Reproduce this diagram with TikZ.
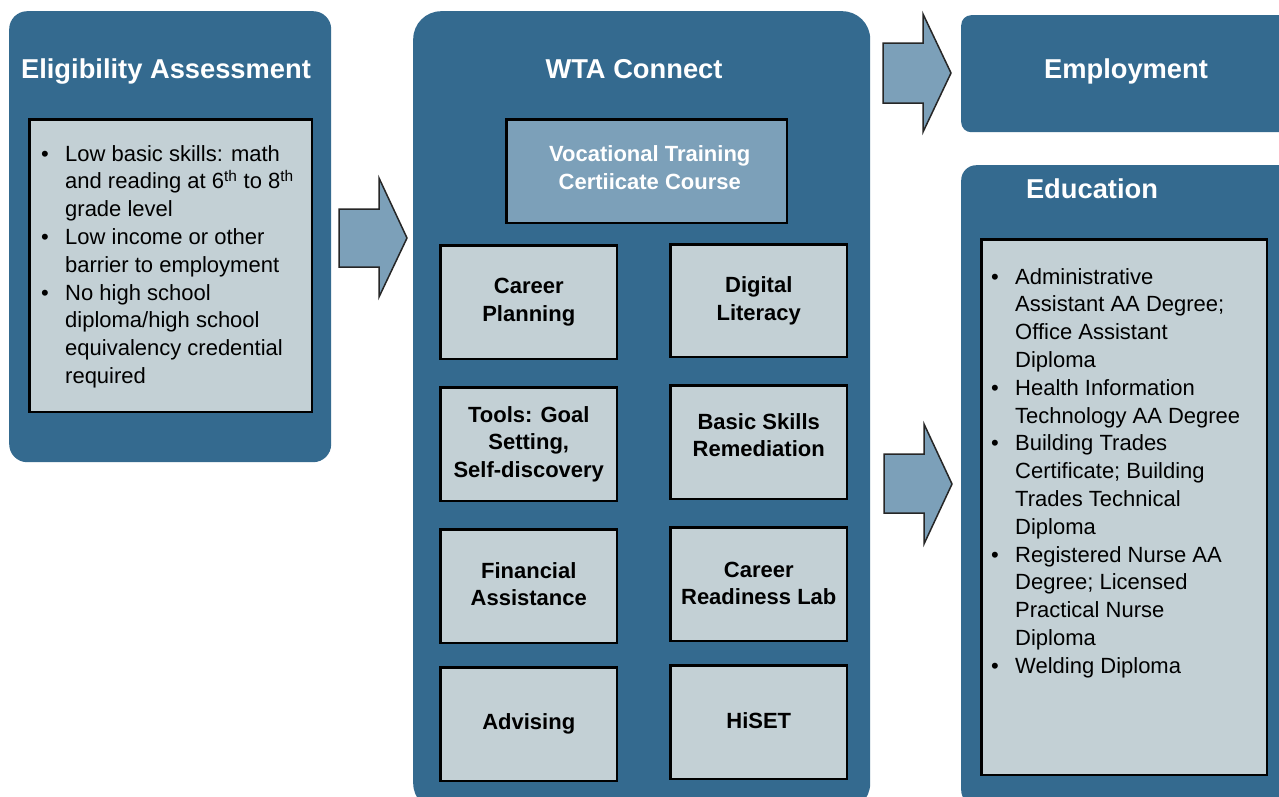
\documentclass[tikz,border=0pt]{standalone}
\usepackage{fontspec}
\setmainfont{Liberation Sans}
\definecolor{panelblue}{RGB}{52,106,143}
\definecolor{lightfill}{RGB}{195,208,213}
\definecolor{arrowblue}{RGB}{124,160,185}
\newcommand{\bul}{\par\hangindent=24pt\hangafter=1\noindent\makebox[24pt][l]{\textbullet}}
\begin{document}
\begin{tikzpicture}[x=1pt,y=-1pt,
  panel/.style={fill=panelblue, draw=none, anchor=north west, inner sep=0pt},
  inbox/.style={fill=lightfill, draw=black, line width=2.5pt, anchor=north west, inner sep=0pt, shift={(1.25,1.25)}},
  vocbox/.style={fill=arrowblue, draw=black, line width=2.5pt, anchor=north west, inner sep=0pt, shift={(1.25,1.25)}},
  blockarrow/.style={fill=arrowblue, draw=black!85, line width=1.5pt, line join=miter},
  titletxt/.style={text=white, font=\bfseries\fontsize{27.3}{32}\selectfont, anchor=base, inner sep=0pt},
  gridtxt/.style={font=\bfseries\fontsize{22}{27.6}\selectfont, align=center, inner sep=0pt},
  listtxt/.style={anchor=base west, inner sep=0pt, font=\fontsize{22}{27.8}\selectfont}
]
\clip (0,0) rectangle (1279,796);
\fill[white] (0,0) rectangle (1279,796);

% panels
\node[panel, rounded corners=18pt, minimum width=322pt, minimum height=451pt] (elig) at (9,11) {};
\node[panel, rounded corners=28pt, minimum width=457pt, minimum height=800pt] (wta) at (413,11) {};
\node[panel, rounded corners=10pt, minimum width=340pt, minimum height=117pt] (emp) at (961,15) {};
\node[panel, rounded corners=15pt, minimum width=340pt, minimum height=640pt] (edu) at (961,165) {};

% titles
\node[titletxt] (eligT) at (166,78) {Eligibility Assessment};
\node[titletxt] (wtaT) at (634,78) {WTA Connect};
\node[titletxt] (empT) at (1126,78) {Employment};
\node[titletxt] (eduT) at (1092,198) {Education};

% inner boxes
\node[inbox, minimum width=282.5pt, minimum height=292.5pt] (eligbox) at (27,117) {};
\node[inbox, minimum width=285.5pt, minimum height=535.5pt] (edubox) at (979,237) {};
\node[vocbox, minimum width=280.5pt, minimum height=103.5pt] (voc) at (504,117) {};
\node[text=white, font=\bfseries\fontsize{22}{27.6}\selectfont, align=center, inner sep=0pt] (vocT) at ([xshift=3pt,yshift=3.5pt]voc.center) {Vocational Training\\Certiicate Course};

% grid
\node[inbox, minimum width=176.5pt, minimum height=113.5pt] (g1) at (438,243) {};
\node[inbox, minimum width=176.5pt, minimum height=112.5pt] (g2) at (668,242) {};
\node[inbox, minimum width=176.5pt, minimum height=113.5pt] (g3) at (438,385) {};
\node[inbox, minimum width=176.5pt, minimum height=113.5pt] (g4) at (668,383) {};
\node[inbox, minimum width=176.5pt, minimum height=113.5pt] (g5) at (438,527) {};
\node[inbox, minimum width=176.5pt, minimum height=113.5pt] (g6) at (668,525) {};
\node[inbox, minimum width=176.5pt, minimum height=113.5pt] (g7) at (438,665) {};
\node[inbox, minimum width=176.5pt, minimum height=113.5pt] (g8) at (668,663) {};
\node[gridtxt] (t1) at (g1.center) {Career\\Planning};
\node[gridtxt] (t2) at (g2.center) {Digital\\Literacy};
\node[gridtxt] (t3) at (g3.center) {Tools: Goal\\Setting,\\Self-discovery};
\node[gridtxt] (t4) at ([yshift=7pt]g4.center) {Basic Skills\\Remediation};
\node[gridtxt] (t5) at ([yshift=2pt]g5.center) {Financial\\Assistance};
\node[gridtxt] (t6) at ([yshift=1pt]g6.center) {Career\\Readiness Lab};
\node[gridtxt] (t7) at (g7.center) {Advising};
\node[gridtxt] (t8) at ([yshift=2pt]g8.center) {HiSET};

% lists
\node[listtxt] (eligList) at (41,161) {\parbox[t]{265pt}{\raggedright
\bul Low basic skills: math\newline and reading at 6\textsuperscript{th} to 8\textsuperscript{th}\newline grade level
\bul Low income or other\newline barrier to employment
\bul No high school\newline diploma/high school\newline equivalency credential\newline required}};

\node[listtxt] (eduList) at (991,284) {\parbox[t]{270pt}{\raggedright
\bul Administrative\newline Assistant AA Degree;\newline Office Assistant\newline Diploma
\bul Health Information\newline Technology AA Degree
\bul Building Trades\newline Certificate; Building\newline Trades Technical\newline Diploma
\bul Registered Nurse AA\newline Degree; Licensed\newline Practical Nurse\newline Diploma
\bul Welding Diploma}};

% block arrows
\draw[blockarrow] (339,209) -- (379,209) -- (379,178) -- (407,238) -- (379,297) -- (379,267) -- (339,267) -- cycle;
\draw[blockarrow] (883,43) -- (923,43) -- (923,14) -- (951,73) -- (923,132) -- (923,103) -- (883,103) -- cycle;
\draw[blockarrow] (884,454) -- (924,454) -- (924,424) -- (952,484) -- (924,544) -- (924,513) -- (884,513) -- cycle;
\end{tikzpicture}
\end{document}
